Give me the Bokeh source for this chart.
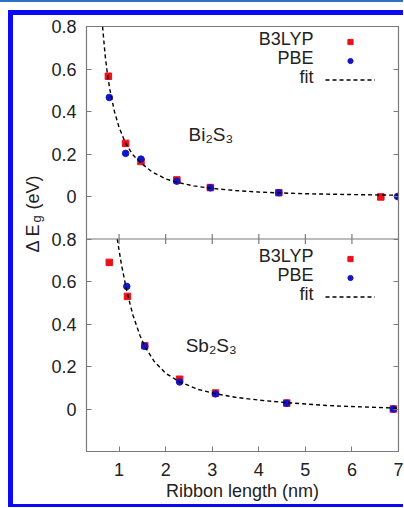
import numpy as np
from bokeh.plotting import figure
from bokeh.models import (Range1d, LinearAxis, FixedTicker, Span, Label, Legend,
                          LegendItem, CustomJSTickFormatter, InlineStyleSheet)
from bokeh.embed import file_html
from bokeh.resources import INLINE

# ---------------- data ----------------
# Top panel: Bi2S3
bi_b3lyp_x = [0.77, 1.14, 1.47, 2.24, 2.96, 4.43, 6.62]
bi_b3lyp_y = [0.566, 0.250, 0.165, 0.078, 0.042, 0.018, -0.002]
bi_pbe_x = [0.79, 1.14, 1.47, 2.24, 2.96, 4.43, 6.98]
bi_pbe_y = [0.466, 0.203, 0.176, 0.072, 0.041, 0.018, 0.000]
bi_fit_x = [0.645, 0.70, 0.75, 0.80, 0.90, 1.00, 1.14, 1.30, 1.47, 1.70, 2.00,
            2.24, 2.60, 2.96, 3.50, 4.00, 4.43, 5.00, 6.00, 7.00]
bi_fit_y = [0.800, 0.665, 0.575, 0.505, 0.400, 0.325, 0.250, 0.195, 0.158, 0.117,
            0.083, 0.067, 0.050, 0.039, 0.028, 0.021, 0.017, 0.013, 0.009, 0.006]

# Bottom panel: Sb2S3
sb_b3lyp_x = [0.79, 1.18, 1.55, 2.30, 3.07, 4.60, 6.89]
sb_b3lyp_y = [0.690, 0.530, 0.298, 0.140, 0.075, 0.028, 0.000]
sb_pbe_x = [1.165, 1.55, 2.30, 3.07, 4.60, 6.89]
sb_pbe_y = [0.577, 0.295, 0.127, 0.071, 0.027, 0.000]
sb_fit_x = [0.96, 1.05, 1.17, 1.30, 1.45, 1.55, 1.75, 2.00, 2.30, 2.70, 3.07,
            3.50, 4.00, 4.60, 5.50, 6.20, 7.00]
sb_fit_y = [0.800, 0.680, 0.550, 0.440, 0.345, 0.295, 0.225, 0.168, 0.128, 0.092,
            0.072, 0.055, 0.042, 0.030, 0.016, 0.010, 0.004]

x_ticks = [1, 2, 3, 4, 5, 6, 7]
y_ticks = [0.0, 0.2, 0.4, 0.6, 0.8]
y_tick_labels = ["0", "0.2", "0.4", "0.6", "0.8"]
series_names = ["B3LYP", "PBE", "fit"]
panel_names = ["Bi₂S₃", "Sb₂S₃"]
x_title = "Ribbon length (nm)"
y_title_parts = ["Δ E", "g", "(eV)"]

# ---------------- style ----------------
FONT = "Liberation Sans"
GRAY = "#7a7a7a"
TXT = "#222222"
RED = "#e8121c"
BLUE = "#1414c8"
FRAME_BLUE = "#0a0af5"
W, H = 403, 507
FL, FT, FR, FB = 86, 26, 398, 451   # frame edges on the canvas

p = figure(width=W, height=H, output_backend="svg", toolbar_location=None,
           x_range=Range1d(0.3, 7.0), y_range=Range1d(-0.2, 1.8),
           min_border_left=FL, min_border_right=W - FR, min_border_top=FT,
           min_border_bottom=H - FB)
p.extra_y_ranges = {"top": Range1d(-1.2, 0.8)}
p.xgrid.visible = False
p.ygrid.visible = False
p.outline_line_color = GRAY
p.outline_line_width = 1.2
p.background_fill_color = "white"
p.border_fill_color = "white"

# x axis
xa = p.xaxis[0]
xa.ticker = FixedTicker(ticks=x_ticks)
xa.major_tick_in = 5
xa.major_tick_out = 0
xa.minor_tick_line_color = None
xa.axis_line_color = GRAY
xa.major_tick_line_color = GRAY
xa.major_label_text_font = FONT
xa.major_label_text_font_size = "18px"
xa.major_label_text_color = TXT
xa.major_label_standoff = 11
xa.axis_label = x_title
xa.axis_label_standoff = 2
xa.axis_label_text_font = FONT
xa.axis_label_text_font_size = "18px"
xa.axis_label_text_font_style = "normal"
xa.axis_label_text_color = TXT

# left axis: both panels share one column of ticks
top_offset = 1.0
left_ticks = list(y_ticks) + [round(v + top_offset, 1) for v in y_ticks]
overrides = {}
for v, lab in zip(y_ticks, y_tick_labels):
    overrides[v] = lab
    overrides[round(v + top_offset, 1)] = lab
ya = p.yaxis[0]
ya.ticker = FixedTicker(ticks=left_ticks)
ya.major_label_overrides = overrides
ya.major_tick_in = 5
ya.major_tick_out = 0
ya.minor_tick_line_color = None
ya.axis_line_color = GRAY
ya.major_tick_line_color = GRAY
ya.major_label_text_font = FONT
ya.major_label_text_font_size = "18px"
ya.major_label_text_color = TXT
ya.major_label_standoff = 10

ra = LinearAxis(ticker=FixedTicker(ticks=left_ticks),
                formatter=CustomJSTickFormatter(code="return ''"),
                major_tick_in=5, major_tick_out=0, minor_tick_line_color=None,
                axis_line_color=GRAY, major_tick_line_color=GRAY,
                major_label_standoff=0)
p.add_layout(ra, "right")

# separator between the panels
sep = y_ticks[-1]
p.add_layout(Span(location=sep, dimension="width", line_color=GRAY, line_width=1.2))
p.scatter(x_ticks[:-1], [sep] * (len(x_ticks) - 1), marker="dash", angle=np.pi / 2,
          size=10, line_color=GRAY, line_width=1.2)

# ---------------- glyphs ----------------
def panel(bx, by, px, py, fx, fy, **kw):
    r1 = p.scatter(bx, by, marker="square", size=6.5, fill_color=RED, line_color=RED, **kw)
    r2 = p.scatter(px, py, marker="circle", size=6.5, fill_color=BLUE, line_color=BLUE, **kw)
    r3 = p.line(fx, fy, line_color="black", line_width=1.4, line_dash="4 3", **kw)
    return [r1, r2, r3]

top_r = panel(bi_b3lyp_x, bi_b3lyp_y, bi_pbe_x, bi_pbe_y, bi_fit_x, bi_fit_y,
              y_range_name="top")
bot_r = panel(sb_b3lyp_x, sb_b3lyp_y, sb_pbe_x, sb_pbe_y, sb_fit_x, sb_fit_y)


def clabel(text, x, y, size, angle=0.0, align="left", baseline="middle", side=None):
    lab = Label(x=x, y=y, x_units="canvas", y_units="canvas", text=text,
                angle=angle, text_font=FONT, text_font_size=size,
                text_color=TXT, text_align=align, text_baseline=baseline)
    if side is None:
        p.add_layout(lab)
    else:
        p.add_layout(lab, side)


# gnuplot-style keys: text on the left, sample on the right
ROW = 19
GH = 13
def add_key(rs, top_row_y):
    lg = Legend(items=[LegendItem(label="", renderers=[r]) for r in rs],
                location=(325 - FL, FB - (top_row_y + 2.5 * ROW) - (ROW - GH) / 2),
                orientation="vertical", glyph_width=50, glyph_height=GH,
                label_height=ROW, label_width=0, label_standoff=0,
                label_text_font_size="10px", padding=0, margin=0, spacing=0,
                border_line_alpha=0, background_fill_alpha=0)
    p.add_layout(lg)
    for i, n in enumerate(series_names):
        clabel(n, 313, top_row_y + i * ROW, "18px", align="right")


add_key(top_r, 38)
add_key(bot_r, 255)

# panel names
p.add_layout(Label(x=2.49, y=0.29, y_range_name="top", text=panel_names[0],
                   text_font=FONT, text_font_size="19px", text_color=TXT,
                   text_align="left", text_baseline="middle"))
p.add_layout(Label(x=2.43, y=0.30, text=panel_names[1],
                   text_font=FONT, text_font_size="19px", text_color=TXT,
                   text_align="left", text_baseline="middle"))

# y axis title (rotated, with subscript g), drawn in the side panels (not clipped)
clabel(y_title_parts[0], 32, 252, "18px", angle=np.pi / 2, baseline="alphabetic", side="left")
clabel(y_title_parts[1], 36, 222, "13px", angle=np.pi / 2, baseline="alphabetic", side="above")
clabel(y_title_parts[2], 32, 209, "18px", angle=np.pi / 2, baseline="alphabetic", side="left")

# blue picture frame around the chart (open on the right, as in the reference)
frame_css = f"""
:host::before {{
  content: ""; position: absolute; left: 0px; top: 0px;
  width: {W}px; height: 1.5px; background: #3070c0;
  pointer-events: none; z-index: 10;
}}
:host::after {{
  content: ""; position: absolute; left: 8px; top: 10px;
  width: {W - 8}px; height: {H - 10}px; box-sizing: border-box;
  border-left: 5px solid {FRAME_BLUE}; border-top: 5px solid {FRAME_BLUE};
  border-bottom: 3px solid {FRAME_BLUE};
  pointer-events: none; z-index: 10;
}}
"""
p.stylesheets = [InlineStyleSheet(css=frame_css)]

open("out.html", "w").write(file_html(p, INLINE))
